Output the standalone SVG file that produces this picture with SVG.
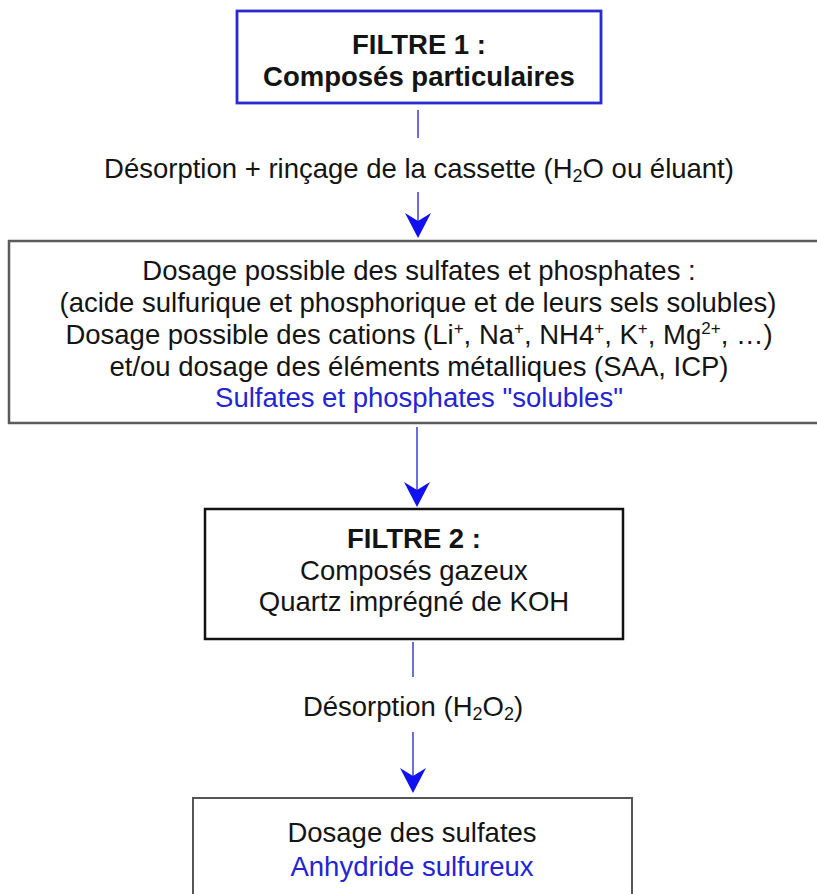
<svg xmlns="http://www.w3.org/2000/svg" width="817" height="894" viewBox="0 0 817 894">
<style>
text{font-family:"Liberation Sans",Arial,sans-serif;font-size:27.5px;fill:#141414;text-anchor:middle}
.b{font-weight:bold}
.blue{fill:#2424d4}
.sub{font-size:18px}
.sup{font-size:17px}
.link{stroke:#4848dc;stroke-width:1.6;fill:none}
.head{fill:#1010f0}
</style>
<defs>
<path id="ah" d="M0,0 L-13,-25 L0,-17 L13,-25 Z"/>
</defs>
<rect width="817" height="894" fill="#ffffff"/>
<g id="filtre1">
<rect x="237" y="11" width="364" height="92" fill="#fff" stroke="#2a2ad2" stroke-width="2.8"/>
<text class="b" x="419" y="54">FILTRE 1 :</text>
<text class="b" x="419" y="86">Composés particulaires</text>
</g>
<g id="dosage1">
<rect x="9" y="241" width="812" height="182" fill="#fff" stroke="#5a5a5a" stroke-width="2.5"/>
<text x="419" y="280">Dosage possible des sulfates et phosphates :</text>
<text x="418" y="312">(acide sulfurique et phosphorique et de leurs sels solubles)</text>
<text x="419" y="344">Dosage possible des cations (Li<tspan class="sup" dy="-10">+</tspan><tspan dy="10">, Na</tspan><tspan class="sup" dy="-10">+</tspan><tspan dy="10">, NH4</tspan><tspan class="sup" dy="-10">+</tspan><tspan dy="10">, K</tspan><tspan class="sup" dy="-10">+</tspan><tspan dy="10">, Mg</tspan><tspan class="sup" dy="-10">2+</tspan><tspan dy="10">, …)</tspan></text>
<text x="419" y="376">et/ou dosage des éléments métalliques (SAA, ICP)</text>
<text class="blue" x="419" y="407">Sulfates et phosphates "solubles"</text>
</g>
<g id="filtre2">
<rect x="205" y="509" width="418" height="130" fill="#fff" stroke="#111" stroke-width="2.5"/>
<text class="b" x="414" y="548">FILTRE 2 :</text>
<text x="414" y="580">Composés gazeux</text>
<text x="414" y="611">Quartz imprégné de KOH</text>
</g>
<g id="dosage2">
<rect x="193" y="798" width="439" height="110" fill="#fff" stroke="#555" stroke-width="2"/>
<text x="412" y="842">Dosage des sulfates</text>
<text class="blue" x="412" y="876">Anhydride sulfureux</text>
</g>
<g id="connectors">
<line class="link" x1="418" y1="110" x2="418" y2="138"/>
<text x="419" y="178">Désorption + rinçage de la cassette (H<tspan class="sub" dy="4">2</tspan><tspan dy="-4">O ou éluant)</tspan></text>
<line class="link" x1="418" y1="192" x2="418" y2="226"/>
<use href="#ah" class="head" transform="translate(418,238)"/>
<line class="link" x1="417" y1="427" x2="417" y2="496"/>
<use href="#ah" class="head" transform="translate(417,507)"/>
<line class="link" x1="413" y1="642" x2="413" y2="677"/>
<text x="413" y="716">Désorption (H<tspan class="sub" dy="4">2</tspan><tspan dy="-4">O</tspan><tspan class="sub" dy="4">2</tspan><tspan dy="-4">)</tspan></text>
<line class="link" x1="413" y1="732" x2="413" y2="782"/>
<use href="#ah" class="head" transform="translate(413,793)"/>
</g>
</svg>
